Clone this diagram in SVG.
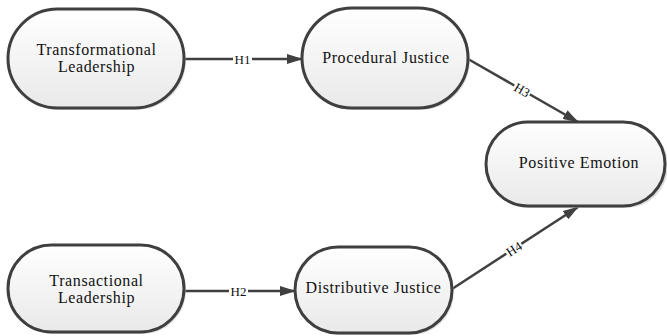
<svg xmlns="http://www.w3.org/2000/svg" width="667" height="336" viewBox="0 0 667 336">
<defs>
<linearGradient id="g" x1="0" y1="0" x2="0" y2="1">
<stop offset="0" stop-color="#ffffff"/>
<stop offset="1" stop-color="#e9e9e9"/>
</linearGradient>
<marker id="ah" markerWidth="16" markerHeight="10" refX="15" refY="5" orient="auto" markerUnits="userSpaceOnUse">
<path d="M0,0 L16,5 L0,10 Z" fill="#404040"/>
</marker>
</defs>
<style>
.n{fill:url(#g);stroke:#3f3f3f;stroke-width:3}
.sh{fill:#c8c8c8;opacity:0.6}
.t{font-family:"Liberation Serif","Times New Roman",serif;font-size:16px;fill:#111;text-anchor:middle;letter-spacing:0.6px}
.c{stroke:#404040;stroke-width:2.5;fill:none;marker-end:url(#ah)}
.l{font-family:"Liberation Serif","Times New Roman",serif;font-size:13px;fill:#111;text-anchor:middle}
.lb{fill:#fff}
</style>
<g id="connectors">
<line class="c" x1="184" y1="59" x2="302" y2="59"/>
<line class="c" x1="184" y1="291" x2="295" y2="291"/>
<line class="c" x1="468" y1="59" x2="578" y2="122"/>
<line class="c" x1="452" y1="289" x2="578" y2="207"/>
<g>
<rect class="lb" x="233" y="53" width="19" height="12"/>
<text class="l" x="242.5" y="63.5">H1</text>
</g>
<g>
<rect class="lb" x="229" y="285" width="19" height="12"/>
<text class="l" x="238.5" y="295.5">H2</text>
</g>
<g transform="translate(522,90) rotate(30)">
<rect class="lb" x="-9" y="-6" width="18" height="12"/>
<text class="l" x="0" y="4.5">H3</text>
</g>
<g transform="translate(514,249) rotate(-33)">
<rect class="lb" x="-9" y="-6" width="18" height="12"/>
<text class="l" x="0" y="4.5">H4</text>
</g>
</g>
<g id="transformational">
<rect class="sh" x="10" y="11" width="176" height="99" rx="49.5"/>
<rect class="n" x="8" y="9" width="176" height="99" rx="49.5"/>
<text class="t" x="96.5" y="55">Transformational</text>
<text class="t" x="96.5" y="72">Leadership</text>
</g>
<g id="procedural">
<rect class="sh" x="304" y="10" width="166" height="100" rx="50"/>
<rect class="n" x="302" y="8" width="166" height="100" rx="50"/>
<text class="t" x="386" y="63">Procedural Justice</text>
</g>
<g id="positive">
<rect class="sh" x="488" y="124" width="180" height="84" rx="42"/>
<rect class="n" x="486" y="122" width="179" height="84" rx="42"/>
<text class="t" x="579" y="168">Positive Emotion</text>
</g>
<g id="transactional">
<rect class="sh" x="10" y="247" width="176" height="87" rx="43.5"/>
<rect class="n" x="8" y="245" width="176" height="87" rx="43.5"/>
<text class="t" x="96.5" y="286">Transactional</text>
<text class="t" x="96.5" y="303">Leadership</text>
</g>
<g id="distributive">
<rect class="sh" x="297" y="249" width="157" height="86" rx="43"/>
<rect class="n" x="295" y="247" width="157" height="86" rx="43"/>
<text class="t" x="373.5" y="293">Distributive Justice</text>
</g>
</svg>
